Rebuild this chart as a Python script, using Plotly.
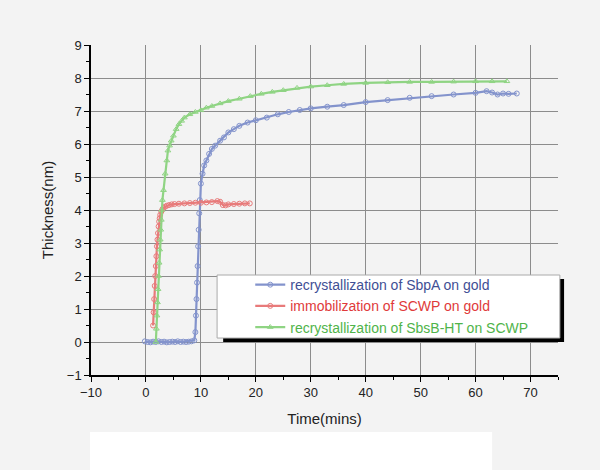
import plotly.graph_objects as go

# recrystallization of SbpA on gold
sbpa_t = [-0.2, 0.3, 0.8, 1.3, 1.8, 2.3, 2.8, 3.3, 3.8, 4.3, 4.8, 5.3, 5.8, 6.3, 6.8, 7.3, 7.8, 8.3, 8.8,
          9.0, 9.1, 9.2, 9.3, 9.4, 9.5, 9.6, 9.7, 9.8, 10.0, 10.3, 10.6, 11.0, 11.5, 12.0, 12.6, 13.5, 14.2,
          15.0, 16.0, 17.0, 18.5, 20, 22, 24, 26, 28, 30, 33, 36, 40, 44, 48, 52, 56, 60, 62, 63, 64, 65, 66, 67.5]
sbpa_h = [0.02, 0.0, -0.01, 0.01, 0.0, 0.02, 0.0, 0.01, -0.01, 0.0, 0.01, 0.0, 0.02, 0.0, 0.01, 0.0, 0.01, 0.02, 0.05,
          0.3, 0.8, 1.3, 1.8, 2.3, 2.9, 3.4, 3.9, 4.3, 4.8, 5.1, 5.35, 5.5, 5.7, 5.85, 5.95, 6.1, 6.2,
          6.35, 6.45, 6.55, 6.65, 6.72, 6.8, 6.9, 6.97, 7.03, 7.08, 7.13, 7.18, 7.27, 7.33, 7.4, 7.45, 7.5, 7.55, 7.6, 7.56, 7.5, 7.53, 7.52, 7.53]

# immobilization of SCWP on gold
scwp_t = [1.3, 1.4, 1.5, 1.6, 1.7, 1.8, 1.9, 2.0, 2.1, 2.2, 2.3, 2.4, 2.5, 2.6, 2.8, 3.0, 3.2, 3.5, 3.8, 4.2,
          4.7, 5.2, 6.0, 7.0, 8.0, 9.0, 10, 11, 12, 13, 13.5, 14, 14.5, 15, 16, 17, 18, 18.9]
scwp_h = [0.5, 0.9, 1.3, 1.7, 2.0, 2.3, 2.6, 2.9, 3.1, 3.3, 3.5, 3.65, 3.75, 3.85, 3.95, 4.02, 4.07, 4.1, 4.13, 4.15,
          4.17, 4.18, 4.19, 4.2, 4.21, 4.22, 4.22, 4.23, 4.24, 4.27, 4.25, 4.15, 4.14, 4.17, 4.18, 4.19, 4.2, 4.2]

# recrystallization of SbsB-HT on SCWP
sbsb_t = [1.8, 1.9, 2.0, 2.1, 2.2, 2.3, 2.4, 2.5, 2.6, 2.7, 2.8, 2.9, 3.0, 3.2, 3.5, 3.8, 4.0, 4.3, 4.6, 5.0,
          5.5, 6.0, 6.5, 7.0, 8.0, 9.0, 10, 11, 12, 13.5, 15, 17, 19, 21, 23, 25, 27.5, 30, 33, 36,
          40, 44, 48, 52, 56, 60, 63, 65.7]
sbsb_h = [0.0, 0.4, 0.8, 1.2, 1.6, 2.0, 2.4, 2.8, 3.1, 3.4, 3.7, 4.0, 4.3, 4.6, 5.1, 5.5, 5.8, 5.95, 6.1, 6.25,
          6.45, 6.6, 6.7, 6.8, 6.9, 6.97, 7.02, 7.1, 7.15, 7.23, 7.3, 7.37, 7.45, 7.52, 7.58, 7.63, 7.7, 7.74, 7.78, 7.82,
          7.85, 7.87, 7.88, 7.88, 7.89, 7.9, 7.9, 7.9]

series = [
    ("recrystallization of SbpA on gold", sbpa_t, sbpa_h, "#8393cc", "#3f4f95", "circle-open"),
    ("immobilization of SCWP on gold", scwp_t, scwp_h, "#e87a7a", "#e03a3a", "circle-open"),
    ("recrystallization of SbsB-HT on SCWP", sbsb_t, sbsb_h, "#8fd483", "#4fb44a", "triangle-up-open"),
]

fig = go.Figure()
for name, t, h, col, txtcol, sym in series:
    fig.add_trace(go.Scatter(
        x=t, y=h, mode="lines+markers",
        name=f"<span style='color:{txtcol}'>{name}</span>",
        line=dict(color=col, width=2.2),
        marker=dict(symbol=sym, size=5, color=col, line=dict(width=1)),
    ))

# legend frame with black drop shadow
fig.add_shape(type="rect", xref="paper", yref="paper", x0=0.283, x1=1.013, y0=0.100, y1=0.291,
              fillcolor="black", line=dict(width=0), layer="above")
fig.add_shape(type="rect", xref="paper", yref="paper", x0=0.270, x1=1.004, y0=0.112, y1=0.303,
              fillcolor="white", line=dict(color="#aaaaaa", width=1), layer="above")
# white strip at the bottom
fig.add_shape(type="rect", xref="paper", yref="paper", x0=-0.002, x1=0.859, y0=-0.29, y1=-0.173,
              fillcolor="white", line=dict(width=0), layer="above")

axis_common = dict(
    showline=True, linecolor="black", linewidth=1.5, automargin=False,
    ticks="outside", ticklen=5, tickcolor="black", tickwidth=1.2,
    gridcolor="#8c8c8c", gridwidth=1, zeroline=False,
    tickfont=dict(size=13, color="#222"),
)

fig.update_layout(
    width=600, height=470,
    margin=dict(l=91, r=42, t=45, b=95),
    paper_bgcolor="#f3f3f3", plot_bgcolor="#f3f3f3",
    font=dict(family="Arial, Liberation Sans, sans-serif", color="#222"),
    showlegend=True,
    legend=dict(x=0.341, y=0.321, xanchor="left", yanchor="top", bgcolor="rgba(0,0,0,0)",
                font=dict(size=14), tracegroupgap=0, itemwidth=30),
    xaxis=dict(range=[-10, 75], dtick=10, tick0=0,
               minor=dict(dtick=5, ticks="outside", ticklen=3, tickcolor="black", showgrid=False),
               title=dict(text="Time(mins)", font=dict(size=15), standoff=14), **axis_common),
    yaxis=dict(range=[-1, 9], dtick=1,
               minor=dict(dtick=0.5, ticks="outside", ticklen=3, tickcolor="black", showgrid=False),
               title=dict(text="Thickness(nm)", font=dict(size=15), standoff=10), **axis_common),
)

fig.write_html("out.html", config={"displayModeBar": False},
               post_script="document.body.style.margin='0';")
